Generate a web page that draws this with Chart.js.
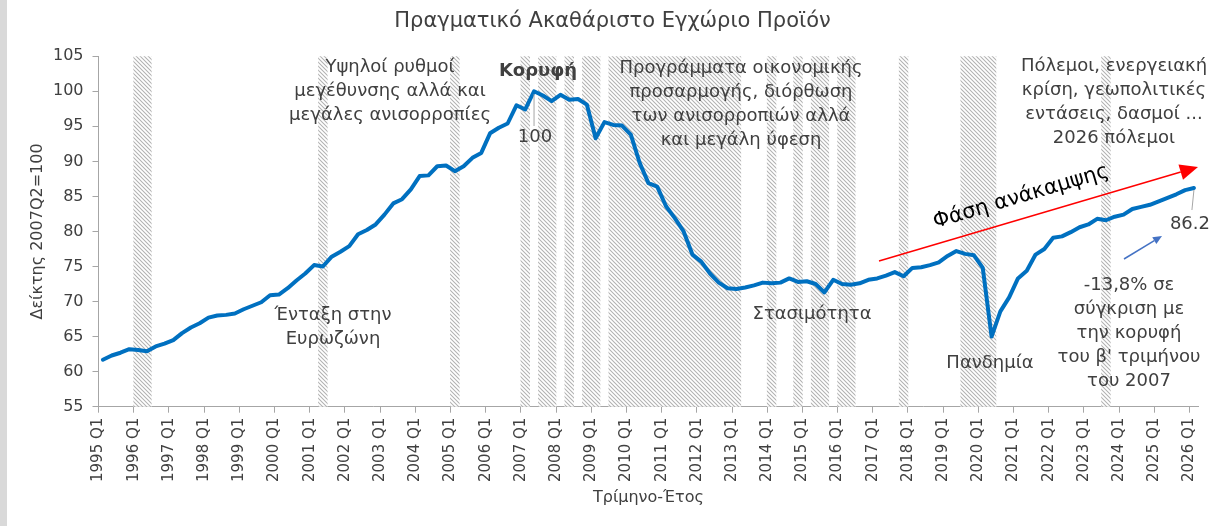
<!DOCTYPE html>
<html>
<head>
<meta charset="utf-8">
<script src="https://cdn.jsdelivr.net/npm/chart.js@4.4.1/dist/chart.umd.min.js"></script>
<style>
  html, body { margin: 0; padding: 0; background: #ffffff; }
  body { width: 1217px; height: 526px; overflow: hidden; position: relative; }
  #strip { position: absolute; left: 0; top: 0; width: 7px; height: 526px; background: #d9d9d9; }
  #c { position: absolute; left: 0; top: 0; }
</style>
</head>
<body>
<div id="strip"></div>
<canvas id="c" width="1217" height="526"></canvas>
<script>
// ---------------- DATA ----------------
const startYear = 1995;
const endYear = 2026;      // last quarter shown: 2026 Q1
const quarterLabels = [];
for (let y = startYear; y <= endYear; y++) {
  for (let q = 1; q <= 4; q++) {
    if (y === endYear && q > 1) break;
    quarterLabels.push(y + ' Q' + q);
  }
}

const gdpIndex = [
  61.7, 62.3, 62.7, 63.2,   // 1995
  63.1, 62.9, 63.6, 64.0,   // 1996
  64.5, 65.5, 66.3, 66.9,   // 1997
  67.7, 68.0, 68.1, 68.3,   // 1998
  68.9, 69.4, 69.9, 70.9,   // 1999
  71.0, 71.9, 73.0, 74.0,   // 2000
  75.2, 75.0, 76.4, 77.1,   // 2001
  77.9, 79.6, 80.2, 81.0,   // 2002
  82.4, 84.0, 84.6, 86.0,   // 2003
  87.9, 88.0, 89.3, 89.4,   // 2004
  88.6, 89.3, 90.5, 91.2,   // 2005
  94.0, 94.8, 95.4, 98.0,   // 2006
  97.4, 100.0, 99.4, 98.6,  // 2007
  99.5, 98.8, 98.9, 98.1,   // 2008
  93.3, 95.6, 95.2, 95.1,   // 2009
  93.8, 89.8, 86.9, 86.4,   // 2010
  83.6, 81.9, 80.0, 76.7,   // 2011
  75.7, 74.0, 72.7, 71.9,   // 2012
  71.8, 72.0, 72.3, 72.7,   // 2013
  72.6, 72.7, 73.3, 72.8,   // 2014
  72.9, 72.5, 71.3, 73.1,   // 2015
  72.5, 72.4, 72.6, 73.1,   // 2016
  73.3, 73.7, 74.2, 73.6,   // 2017
  74.8, 74.9, 75.2, 75.6,   // 2018
  76.5, 77.2, 76.8, 76.6,   // 2019
  74.8, 65.0, 68.6, 70.6,   // 2020
  73.3, 74.4, 76.7, 77.5,   // 2021
  79.1, 79.3, 79.9, 80.6,   // 2022
  81.0, 81.8, 81.6, 82.1,   // 2023
  82.4, 83.2, 83.5, 83.8,   // 2024
  84.3, 84.8, 85.3, 85.9,   // 2025
  86.2                      // 2026 Q1
];

// Quarters shaded with hatching (quarter-on-quarter declines)
const declineQuarters = [
  '1996 Q1', '1996 Q2', '2001 Q2', '2005 Q1', '2007 Q1', '2007 Q3', '2007 Q4',
  '2008 Q2', '2008 Q4', '2009 Q1',
  '2009 Q3', '2009 Q4', '2010 Q1', '2010 Q2', '2010 Q3', '2010 Q4',
  '2011 Q1', '2011 Q2', '2011 Q3', '2011 Q4', '2012 Q1', '2012 Q2', '2012 Q3', '2012 Q4', '2013 Q1',
  '2014 Q1', '2014 Q4', '2015 Q2', '2015 Q3', '2016 Q1', '2016 Q2', '2017 Q4',
  '2019 Q3', '2019 Q4', '2020 Q1', '2020 Q2', '2023 Q3'
];

const yMin = 55, yMax = 105, yStep = 5;
const peakLabel = '2007 Q2';
const lastLabel = '2026 Q1';

// ---------------- STYLE ----------------
const FONT = "'DejaVu Sans', 'Noto Sans', sans-serif";
const TEXT = '#404040';
const AXIS = '#a6a6a6';

function makeHatch() {
  const s = 4;
  const c = document.createElement('canvas');
  c.width = s; c.height = s;
  const g = c.getContext('2d');
  g.fillStyle = '#ffffff';
  g.fillRect(0, 0, s, s);
  g.strokeStyle = '#b2b2b2';
  g.lineWidth = 1.05;
  g.beginPath();
  g.moveTo(-1, -1); g.lineTo(s + 1, s + 1);
  g.moveTo(-1, s - 1); g.lineTo(1, s + 1);
  g.moveTo(s - 1, -1); g.lineTo(s + 1, 1);
  g.stroke();
  return g.createPattern(c, 'repeat');
}

const bandData = quarterLabels.map(l => declineQuarters.includes(l) ? 1 : null);

// ---------------- ANNOTATIONS ----------------
const notes = [
  { lines: ['Υψηλοί ρυθμοί', 'μεγέθυνσης αλλά και', 'μεγάλες ανισορροπίες'], x: 390, y: 67 },
  { lines: ['Προγράμματα οικονομικής', 'προσαρμογής, διόρθωση', 'των ανισορροπιών αλλά', 'και μεγάλη ύφεση'], x: 741, y: 68 },
  { lines: ['Ένταξη στην', 'Ευρωζώνη'], x: 333, y: 315 },
  { lines: ['Στασιμότητα'], x: 812, y: 314 },
  { lines: ['Πανδημία'], x: 990, y: 363 },
  { lines: ['Πόλεμοι, ενεργειακή', 'κρίση, γεωπολιτικές', 'εντάσεις, δασμοί ...', '2026 πόλεμοι'], x: 1114, y: 66 },
  { lines: ['-13,8% σε', 'σύγκριση με', 'την κορυφή', 'του β\' τριμήνου', 'του 2007'], x: 1129, y: 285 }
];
const LINE_H = 24;

function arrow(ctx, x1, y1, x2, y2, color, w, headLen, headHalf) {
  const a = Math.atan2(y2 - y1, x2 - x1);
  const bx = x2 - headLen * Math.cos(a), by = y2 - headLen * Math.sin(a);
  ctx.save();
  ctx.strokeStyle = color; ctx.fillStyle = color; ctx.lineWidth = w;
  ctx.beginPath(); ctx.moveTo(x1, y1); ctx.lineTo(bx, by); ctx.stroke();
  ctx.beginPath();
  ctx.moveTo(x2, y2);
  ctx.lineTo(bx + headHalf * Math.sin(a), by - headHalf * Math.cos(a));
  ctx.lineTo(bx - headHalf * Math.sin(a), by + headHalf * Math.cos(a));
  ctx.closePath(); ctx.fill();
  ctx.restore();
}

const annotPlugin = {
  id: 'annot',
  afterDraw(chart) {
    const ctx = chart.ctx;
    const meta = chart.getDatasetMeta(0);
    ctx.save();
    ctx.fillStyle = TEXT;
    ctx.textAlign = 'center';
    ctx.textBaseline = 'middle';
    ctx.font = '18px ' + FONT;
    notes.forEach(n => n.lines.forEach((t, i) => ctx.fillText(t, n.x, n.y + i * LINE_H)));

    // Peak
    const pi = quarterLabels.indexOf(peakLabel);
    const pp = meta.data[pi];
    ctx.font = 'bold 18px ' + FONT;
    ctx.fillText('Κορυφή', 538, 71);
    ctx.strokeStyle = AXIS; ctx.lineWidth = 1;
    ctx.beginPath(); ctx.moveTo(pp.x, pp.y + 3); ctx.lineTo(pp.x, 126); ctx.stroke();
    ctx.font = '18px ' + FONT;
    ctx.fillText(gdpIndex[pi].toFixed(0), pp.x + 1, 137);

    // Last value
    const li = quarterLabels.indexOf(lastLabel);
    const lp = meta.data[li];
    ctx.beginPath(); ctx.moveTo(lp.x, lp.y + 2); ctx.lineTo(lp.x - 2, 210); ctx.stroke();
    ctx.fillText(gdpIndex[li].toFixed(1), lp.x - 4, 224);

    // Red recovery arrow + text
    arrow(ctx, 879, 261, 1198, 167, '#ff0000', 1.5, 18, 8);
    ctx.save();
    ctx.translate(1021, 197);
    ctx.rotate(-16.5 * Math.PI / 180);
    ctx.fillStyle = '#000000';
    ctx.font = '21px ' + FONT;
    ctx.fillText('Φάση ανάκαμψης', 0, 0);
    ctx.restore();

    // Small blue arrow
    arrow(ctx, 1124, 259, 1162, 236, '#4472c4', 1.5, 9, 4);
    ctx.restore();
  }
};

// ---------------- CHART ----------------
const ctx = document.getElementById('c').getContext('2d');
new Chart(ctx, {
  type: 'bar',
  data: {
    labels: quarterLabels,
    datasets: [
      {
        type: 'line',
        label: 'Πραγματικό ΑΕΠ',
        data: gdpIndex,
        borderColor: '#0070c0',
        borderWidth: 4,
        pointRadius: 0,
        tension: 0,
        borderJoinStyle: 'round',
        borderCapStyle: 'round',
        yAxisID: 'y',
        order: 1
      },
      {
        type: 'bar',
        label: 'Ύφεση',
        data: bandData,
        backgroundColor: makeHatch(),
        borderWidth: 0,
        barPercentage: 1,
        categoryPercentage: 1,
        yAxisID: 'yb',
        order: 2
      }
    ]
  },
  options: {
    responsive: false,
    maintainAspectRatio: false,
    animation: false,
    events: [],
    layout: { padding: { left: 24, right: 16, top: 0, bottom: 0 } },
    plugins: {
      legend: { display: false },
      tooltip: { enabled: false },
      title: {
        display: true,
        text: 'Πραγματικό Ακαθάριστο Εγχώριο Προϊόν',
        color: TEXT,
        font: { family: FONT, size: 21, weight: 'normal' },
        padding: { top: 9, bottom: 22 }
      }
    },
    scales: {
      x: {
        type: 'category',
        offset: true,
        grid: {
          offset: true,
          drawOnChartArea: false,
          drawTicks: true,
          tickLength: 6,
          color: c => (c.index % 4 === 0 ? AXIS : 'rgba(0,0,0,0)'),
          tickColor: c => (c.index % 4 === 0 ? AXIS : 'rgba(0,0,0,0)')
        },
        border: { display: true, color: AXIS, width: 1 },
        ticks: {
          autoSkip: false,
          maxRotation: 90,
          minRotation: 90,
          labelOffset: -4.4,
          padding: 5,
          color: TEXT,
          font: { family: FONT, size: 15 },
          callback: (v, i) => (i % 4 === 0 ? quarterLabels[i] : '')
        },
        title: {
          display: true,
          text: 'Τρίμηνο-Έτος',
          color: TEXT,
          font: { family: FONT, size: 16 },
          padding: { top: 0, bottom: 19 }
        },
        afterFit: s => { s.height = 119.3; }
      },
      y: {
        type: 'linear',
        min: yMin,
        max: yMax,
        grid: { drawOnChartArea: false, drawTicks: true, tickLength: 6, color: AXIS },
        border: { display: true, color: AXIS, width: 1 },
        ticks: { stepSize: yStep, padding: 9, color: TEXT, font: { family: FONT, size: 16 } },
        title: {
          display: true,
          text: 'Δείκτης 2007Q2=100',
          color: TEXT,
          font: { family: FONT, size: 16 },
          padding: { top: 4, bottom: 0 }
        },
        afterFit: s => { s.width = 74.5; }
      },
      yb: { type: 'linear', display: false, min: 0, max: 1 }
    }
  },
  plugins: [annotPlugin]
});
</script>
</body>
</html>
